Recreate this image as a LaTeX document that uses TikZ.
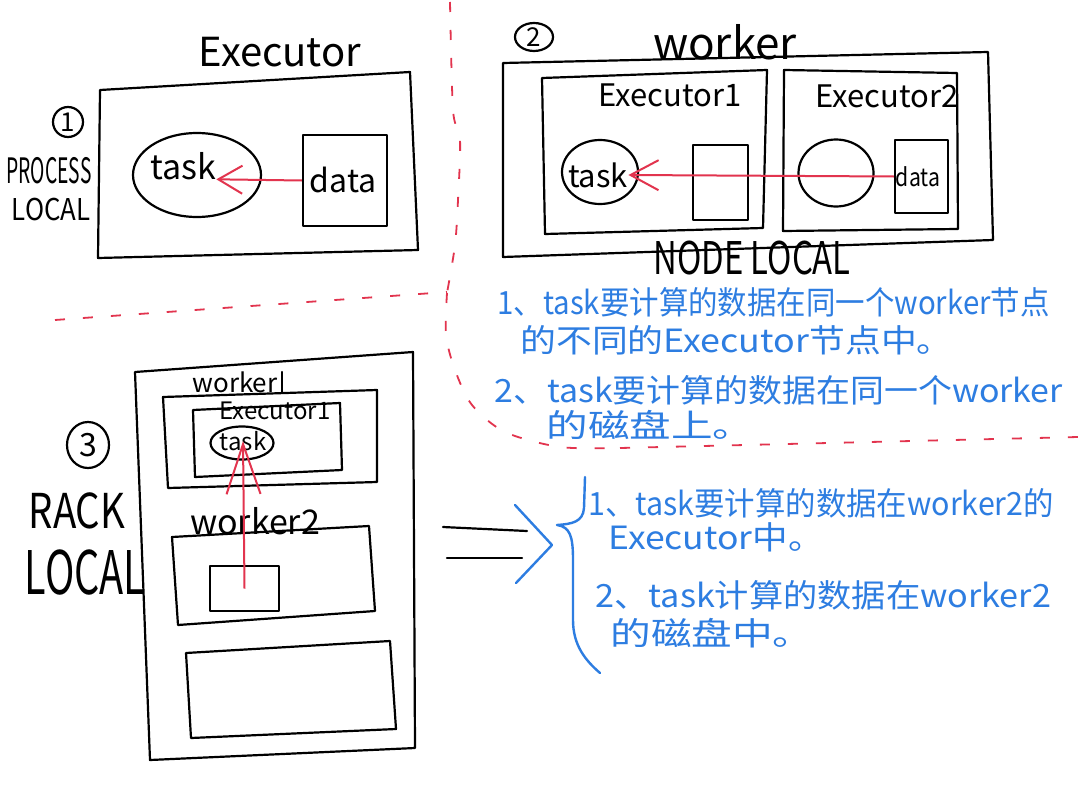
\documentclass[tikz,border=0pt]{standalone}
\usepackage{fontspec}
\usepackage{graphicx}
\usetikzlibrary{shapes.geometric,arrows.meta}
\newfontfamily\hand{Noto Sans CJK SC}
\definecolor{inkred}{RGB}{226,52,78}
\definecolor{inkblue}{RGB}{45,125,225}
\newcommand\hw[3]{\scalebox{#1}[1]{\fontsize{#2}{#2}\selectfont #3}}
\begin{document}
\begin{tikzpicture}[x=0.5pt,y=-0.5pt,
  ink/.style={line width=1.1pt, line join=round, line cap=round},
  blueline/.style={draw=inkblue, line width=1.2pt, line join=round, line cap=round},
  lbl/.style={inner sep=0pt, font=\hand},
  btxt/.style={inner sep=0pt, anchor=west, text=inkblue, font=\hand},
  num/.style={draw, line width=1.1pt, inner sep=0pt, font=\hand},
  divider/.style={draw=inkred, line width=0.9pt, dash pattern=on 5pt off 9pt},
  redarr/.style={draw=inkred, line width=1pt}
]
\useasboundingbox (0,0) rectangle (1080,792);
\fill[white] (0,0) rectangle (1080,792);

% ---------------- dividers
\draw[divider] plot[smooth] coordinates {(450,2) (453,110) (460,140) (458,200) (455,245) (447,293)};
\draw[divider] (55,320) -- (447,292);
\draw[divider] plot[smooth] coordinates {(447,293) (446,335) (455,370) (472,405) (505,432) (560,447) (620,448)};
\draw[divider] (620,448) -- (1078,437);

% ---------------- section 1
\node[lbl] (t1title) at (280,52) {\hw{1}{20pt}{Executor}};
\draw[ink] (100,90) -- (410,72) -- (418,250) -- (98,258) -- cycle;
\node[num, circle, minimum size=15pt] (c1) at (68,122) {\fontsize{13pt}{13pt}\selectfont 1};
\node[lbl] (proc) at (49,171) {\hw{0.55}{17.5pt}{PROCESS}};
\node[lbl] (loc1) at (51,210) {\hw{0.86}{15pt}{LOCAL}};
\node[ellipse, draw, ink, minimum width=64pt, minimum height=42pt] (e1) at (197,175) {};
\node[lbl] (t1) at (183,166) {\hw{1}{17pt}{task}};
\node[draw, ink, minimum width=42pt, minimum height=45.5pt, inner sep=0pt] (data1) at (345,180.5) {};
\node[lbl] (d1) at (343,180) {\hw{1}{16pt}{data}};
\draw[redarr, -{Straight Barb[length=12pt,width=14pt]}] (data1.west) -- (t1.base east);

% ---------------- section 2
\node[num, ellipse, minimum width=19pt, minimum height=14pt] (c2) at (534,37) {\fontsize{13pt}{13pt}\selectfont 2};
\node[lbl] (w2title) at (725,42) {\hw{1}{22pt}{worker}};
\draw[ink] (503,63) -- (988,52) -- (993,240) -- (503,257) -- cycle;
\draw[ink] (542,78) -- (767,70) -- (763,228) -- (545,234) -- cycle;
\draw[ink] (784,70) -- (957,73) -- (958,229) -- (783,231) -- cycle;
\node[lbl] (ex1) at (670,95) {\hw{1}{15.5pt}{Executor1}};
\node[lbl] (ex2) at (887,96) {\hw{1}{15.5pt}{Executor2}};
\node[ellipse, draw, ink, minimum width=38pt, minimum height=32pt] (e2) at (600,172) {};
\node[lbl] (t2) at (598,175) {\hw{1}{15.5pt}{task}};
\node[draw, ink, minimum width=27.5pt, minimum height=37.5pt, inner sep=0pt] (r2) at (720.5,182.5) {};
\node[ellipse, draw, ink, minimum width=37.5pt, minimum height=33.5pt] (e3) at (836,173) {};
\node[draw, ink, minimum width=26.5pt, minimum height=36.5pt, inner sep=0pt] (data2) at (921.5,176.5) {};
\node[lbl] (d2) at (918,177) {\hw{0.85}{12.5pt}{data}};
\draw[redarr, -{Straight Barb[length=14pt,width=15pt]}] (data2.west) -- (t2.east);
\node[lbl] (nodelocal) at (752,258) {\hw{0.73}{22.5pt}{NODE LOCAL}};

% ---------------- blue notes 1
\node[btxt] (n11) at (497,302) {\hw{0.92}{16pt}{1、task要计算的数据在同一个worker节点}};
\node[btxt] (n12) at (520,340) {\hw{1.12}{16pt}{的不同的Executor节点中。}};
\node[btxt] (n13) at (494,390) {\hw{1.06}{16pt}{2、task要计算的数据在同一个worker}};
\node[btxt] (n14) at (546,425) {\hw{1.3}{16pt}{的磁盘上。}};

% ---------------- section 3
\node[num, ellipse, minimum width=21pt, minimum height=23pt] (c3) at (88,445) {\fontsize{16pt}{16pt}\selectfont 3};
\node[lbl] (rack) at (77,511) {\hw{0.8}{24pt}{RACK}};
\node[lbl] (loc3) at (85,573) {\hw{0.66}{30pt}{LOCAL}};
\draw[ink] (135,372) -- (413,352) -- (415,748) -- (150,760) -- cycle;
\node[lbl] (w31) at (235,382) {\hw{1}{13pt}{worker}};
\draw[ink] (282,372) -- (282,392);
\draw[ink] (163,397) -- (377,390) -- (377,482) -- (168,488) -- cycle;
\draw[ink] (193,410) -- (340,403) -- (342,470) -- (195,477) -- cycle;
\node[lbl] (ex31) at (275,411) {\hw{1}{12pt}{Executor1}};
\node[ellipse, draw, ink, minimum width=31.5pt, minimum height=16.5pt, inner sep=0pt] (e31) at (242,443) {};
\node[lbl] (t3) at (243,441) {\hw{1}{12pt}{task}};
\node[lbl] (w32) at (255,521) {\hw{1}{17pt}{worker2}};
\draw[ink] (172,537) -- (369,526) -- (375,611) -- (178,625) -- cycle;
\node[draw, ink, minimum width=34.5pt, minimum height=22.5pt, inner sep=0pt] (r3) at (244.5,588.5) {};
\draw[ink] (186,653) -- (390,641) -- (396,729) -- (191,738) -- cycle;
\draw[redarr, -{Straight Barb[length=25pt,width=17pt]}] (r3.center) -- (t3.center);

% ---------------- implication
\draw[ink] (443,527) -- (527,531);
\draw[ink] (447,558) -- (522,558);
\draw[blueline] (515,505) -- (552,545) -- (516,583);
\draw[blueline] (585,477) -- (584,508) .. controls (583,522) and (572,524) .. (557,525)
  .. controls (570,527) and (573,536) .. (573,560) -- (573,620)
  .. controls (573,645) and (585,660) .. (600,673);

% ---------------- blue notes 2
\node[btxt] (n21) at (588,503) {\hw{0.95}{16pt}{1、task要计算的数据在worker2的}};
\node[btxt] (n22) at (608,537) {\hw{1.11}{16pt}{Executor中。}};
\node[btxt] (n23) at (595,595) {\hw{1.07}{16pt}{2、task计算的数据在worker2}};
\node[btxt] (n24) at (610,633) {\hw{1.27}{16pt}{的磁盘中。}};
\end{tikzpicture}
\end{document}
